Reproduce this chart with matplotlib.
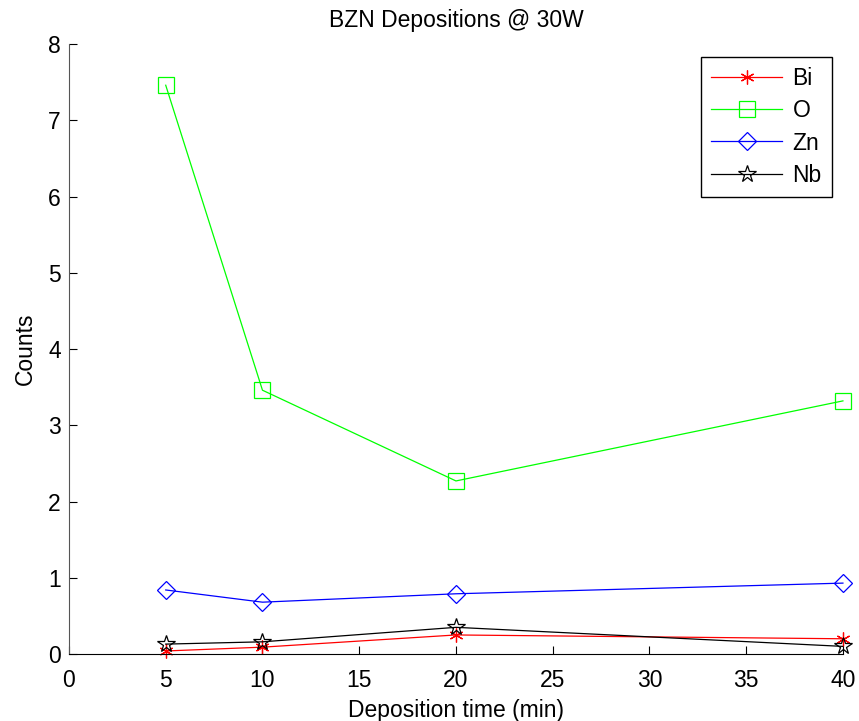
import numpy as np
from matplotlib import pyplot as plt

plt.rcParams['font.family'] = ['Liberation Sans', 'DejaVu Sans']

######################## data ########################
deposition_time = [5, 10, 20, 40]
bi_counts = [0.04, 0.09, 0.25, 0.20]
o_counts = [7.46, 3.46, 2.27, 3.32]
zn_counts = [0.84, 0.68, 0.79, 0.93]
nb_counts = [0.13, 0.16, 0.35, 0.10]
x_ticks = [0, 5, 10, 15, 20, 25, 30, 35, 40]
y_ticks = [0, 1, 2, 3, 4, 5, 6, 7, 8]
#############################################################################

fig = plt.figure(figsize=(8.59, 7.21), dpi=100)
ax = fig.add_axes([0.0803, 0.0929, 0.901, 0.846])

ax.plot(deposition_time, bi_counts, color=(1, 0, 0), lw=0.9, marker=(6, 2, 0),
        ms=10, mew=0.9, label="Bi", clip_on=False)
ax.plot(deposition_time, o_counts, color=(0, 1, 0), lw=0.9, marker="s",
        ms=11, mfc="none", mew=0.9, label="O", clip_on=False)
ax.plot(deposition_time, zn_counts, color=(0, 0, 1), lw=0.9, marker="D",
        ms=9.5, mfc="none", mew=0.9, label="Zn", clip_on=False)
ax.plot(deposition_time, nb_counts, color="black", lw=0.9, marker="*",
        ms=13, mfc="none", mew=0.9, label="Nb", clip_on=False)

ax.set_xlim(0, 40)
ax.set_ylim(0, 8)
ax.set_xticks(x_ticks)
ax.set_yticks(y_ticks)
ax.spines["top"].set_visible(False)
ax.spines["right"].set_visible(False)
ax.spines["left"].set_color("#555555")
ax.tick_params(direction="in", length=6, labelsize=16.5, pad=6)
ax.tick_params(axis="x", pad=11)

ax.set_title("BZN Depositions @ 30W", fontsize=16.5, pad=12)
ax.set_xlabel("Deposition time (min)", fontsize=16.5, labelpad=5)
ax.set_ylabel("Counts", fontsize=16.5, labelpad=8)

leg = ax.legend(loc="upper right", bbox_to_anchor=(0.986, 0.979), borderaxespad=0,
                fontsize=16.5, handlelength=3.1, labelspacing=0.4, fancybox=False,
                framealpha=1, edgecolor="black", borderpad=0.45, handletextpad=0.45)
leg.get_frame().set_linewidth(1.0)

plt.savefig("out.png", dpi=100)
